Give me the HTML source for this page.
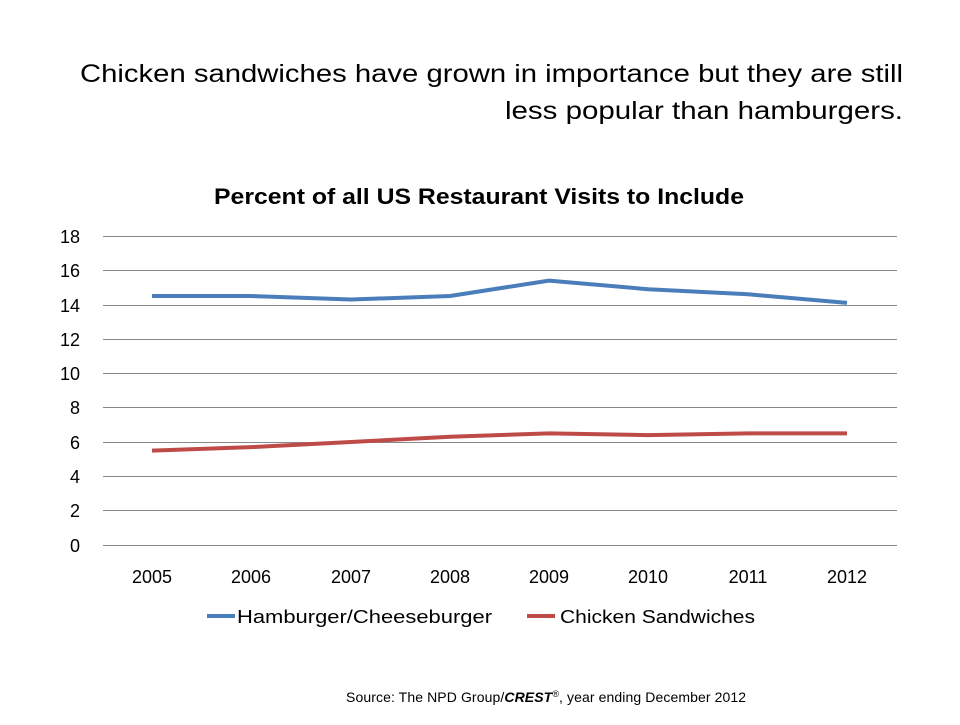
<!DOCTYPE html>
<html><head><style>
body{margin:0;width:960px;height:720px;background:#fff;overflow:hidden;font-family:"Liberation Sans",sans-serif;}
</style></head><body>
<svg width="960" height="720" xmlns="http://www.w3.org/2000/svg" font-family="Liberation Sans, sans-serif">
<text x="80" y="82" font-size="25" textLength="823" lengthAdjust="spacingAndGlyphs" fill="#000">Chicken sandwiches have grown in importance but they are still</text>
<text x="505" y="119" font-size="25" textLength="398" lengthAdjust="spacingAndGlyphs" fill="#000">less popular than hamburgers.</text>
<text x="214" y="204" font-size="22" font-weight="bold" textLength="530" lengthAdjust="spacingAndGlyphs">Percent of all US Restaurant Visits to Include</text>
<g stroke="#888" stroke-width="1">
<line x1="103" x2="897" y1="236.5" y2="236.5"/>
<line x1="103" x2="897" y1="270.5" y2="270.5"/>
<line x1="103" x2="897" y1="305.5" y2="305.5"/>
<line x1="103" x2="897" y1="339.5" y2="339.5"/>
<line x1="103" x2="897" y1="373.5" y2="373.5"/>
<line x1="103" x2="897" y1="407.5" y2="407.5"/>
<line x1="103" x2="897" y1="442.5" y2="442.5"/>
<line x1="103" x2="897" y1="476.5" y2="476.5"/>
<line x1="103" x2="897" y1="510.5" y2="510.5"/>
<line x1="103" x2="897" y1="545.5" y2="545.5"/>
</g>
<g font-size="18" text-anchor="end">
<text x="80" y="243">18</text><text x="80" y="277">16</text><text x="80" y="312">14</text><text x="80" y="346">12</text><text x="80" y="380">10</text><text x="80" y="414">8</text><text x="80" y="449">6</text><text x="80" y="483">4</text><text x="80" y="517">2</text><text x="80" y="552">0</text>
</g>
<g font-size="18" text-anchor="middle">
<text x="152" y="583">2005</text><text x="251" y="583">2006</text><text x="351" y="583">2007</text><text x="450" y="583">2008</text><text x="549" y="583">2009</text><text x="648" y="583">2010</text><text x="748" y="583">2011</text><text x="847" y="583">2012</text>
</g>
<polyline fill="none" stroke="#4a7ebb" stroke-width="4" stroke-linejoin="round" points="152,296 251,296 351,299.5 450,296 549,280.6 648,289.2 748,294.3 847,302.9"/>
<polyline fill="none" stroke="#be4b48" stroke-width="4" stroke-linejoin="round" points="152,450.6 251,447.1 351,442 450,436.8 549,433.4 648,435.1 748,433.4 847,433.4"/>
<line x1="207" x2="235" y1="616" y2="616" stroke="#4a7ebb" stroke-width="4"/>
<text x="237" y="623" font-size="18" textLength="255" lengthAdjust="spacingAndGlyphs">Hamburger/Cheeseburger</text>
<line x1="527" x2="555" y1="616" y2="616" stroke="#be4b48" stroke-width="4"/>
<text x="560" y="623" font-size="18" textLength="195" lengthAdjust="spacingAndGlyphs">Chicken Sandwiches</text>
<text x="346" y="702" font-size="14" letter-spacing="0.1">Source: The NPD Group/<tspan font-weight="bold" font-style="italic">CREST</tspan><tspan font-size="9" dy="-5">®</tspan><tspan dy="5">,  year ending December 2012</tspan></text>
</svg>
</body></html>
